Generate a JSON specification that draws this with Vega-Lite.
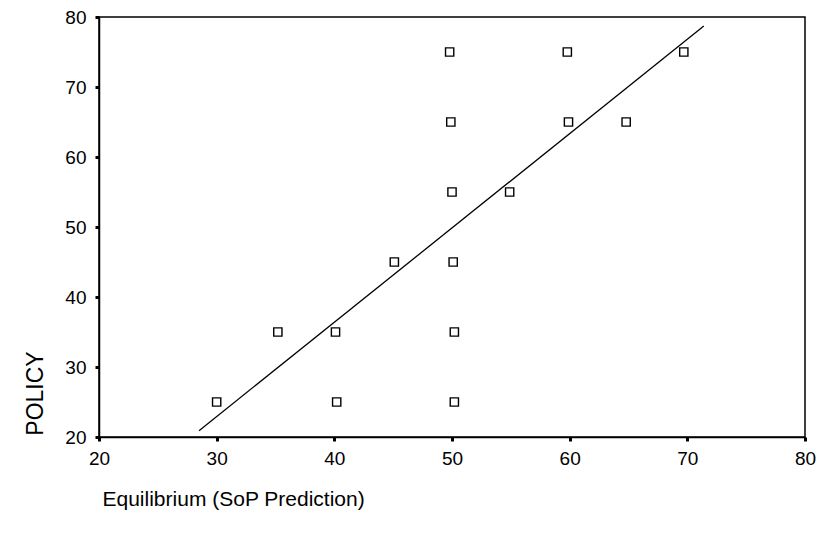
{
  "$schema": "https://vega.github.io/schema/vega-lite/v6.json",
  "width": 706,
  "height": 420,
  "autosize": {"type": "none"},
  "padding": {"left": 99, "top": 17, "right": 22, "bottom": 97},
  "background": "white",
  "config": {
    "font": "Liberation Sans",
    "view": {"stroke": "black", "strokeWidth": 1.5},
    "axis": {
      "grid": false,
      "domainColor": "black",
      "domainWidth": 1.5,
      "tickColor": "black",
      "tickSize": 4,
      "tickWidth": 3,
      "labelColor": "black",
      "labelFontSize": 19,
      "labelFlush": false,
      "labelOverlap": false,
      "titleColor": "black",
      "titleFontWeight": "normal"
    }
  },
  "datasets": {
    "pts": [
      {"eq": 30, "policy": 25},
      {"eq": 35.2, "policy": 35},
      {"eq": 40.1, "policy": 35},
      {"eq": 40.2, "policy": 25},
      {"eq": 45.1, "policy": 45},
      {"eq": 49.8, "policy": 75},
      {"eq": 49.9, "policy": 65},
      {"eq": 50, "policy": 55},
      {"eq": 50.1, "policy": 45},
      {"eq": 50.2, "policy": 35},
      {"eq": 50.2, "policy": 25},
      {"eq": 54.9, "policy": 55},
      {"eq": 59.8, "policy": 75},
      {"eq": 59.9, "policy": 65},
      {"eq": 64.8, "policy": 65},
      {"eq": 69.7, "policy": 75}
    ],
    "fit": [
      {"eq": 28.5, "policy": 20.9},
      {"eq": 71.4, "policy": 78.7}
    ]
  },
  "layer": [
    {
      "data": {"name": "fit"},
      "mark": {"type": "line", "color": "black", "strokeWidth": 1.3},
      "encoding": {
        "x": {"field": "eq", "type": "quantitative"},
        "y": {"field": "policy", "type": "quantitative"}
      }
    },
    {
      "data": {"name": "pts"},
      "mark": {"type": "point", "shape": "square", "size": 68, "filled": false, "stroke": "black", "strokeWidth": 1.4, "opacity": 1},
      "encoding": {
        "x": {
          "field": "eq",
          "type": "quantitative",
          "scale": {"domain": [20, 80], "nice": false, "zero": false},
          "axis": {
            "values": [20, 30, 40, 50, 60, 70, 80],
            "title": "Equilibrium (SoP Prediction)",
            "titleFontSize": 21,
            "titleAnchor": "start",
            "titleAlign": "left",
            "titleBaseline": "alphabetic",
            "titleX": 3,
            "titleY": 68,
            "labelPadding": 8
          }
        },
        "y": {
          "field": "policy",
          "type": "quantitative",
          "scale": {"domain": [20, 80], "nice": false, "zero": false},
          "axis": {
            "values": [20, 30, 40, 50, 60, 70, 80],
            "title": "POLICY",
            "titleFontSize": 23,
            "titleAngle": -90,
            "titleAlign": "center",
            "titleBaseline": "middle",
            "titleX": -64,
            "titleY": 376,
            "labelPadding": 9
          }
        }
      }
    }
  ]
}
